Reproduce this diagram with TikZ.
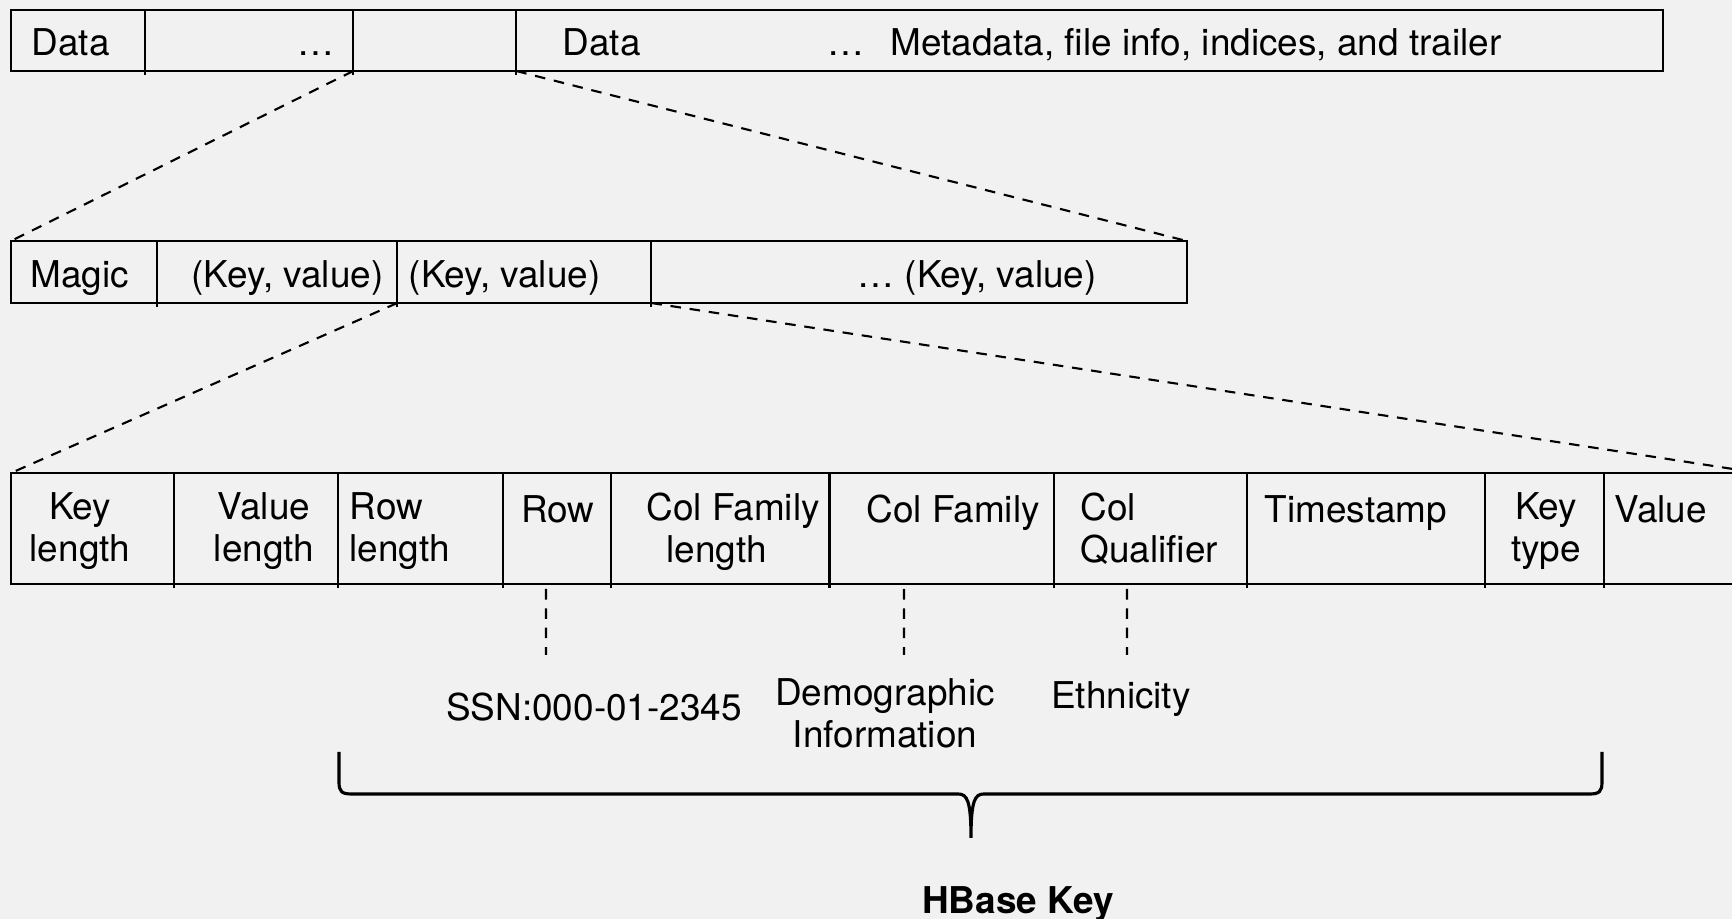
\documentclass[tikz,border=0pt]{standalone}
\usepackage{fontspec}
\setmainfont{TeX Gyre Heros}
\usetikzlibrary{positioning}
\definecolor{bggray}{HTML}{F1F1F1}

\begin{document}
\begin{tikzpicture}[x=0.01cm, y=-0.01cm,
 cell/.style = {draw, rectangle, anchor=north west, inner sep=0pt, outer sep=0pt, line width=0.6pt},
 txt/.style = {inner sep=0pt, font=\fontsize{10.5}{12}\selectfont, execute at begin node=\strut},
 zoomline/.style = {draw, dash pattern=on 3pt off 2.5pt, line width=0.6pt},
 bracestyle/.style = {draw, line width=0.9pt}]

\path[use as bounding box, fill=bggray] (0,0) rectangle (1732,919);

% file
\node(t1) [cell, minimum width=1.34cm, minimum height=0.61cm] at (11,10) {};
\node(t2) [cell, minimum width=2.08cm, minimum height=0.61cm, right=0pt of t1] {};
\node(t3) [cell, minimum width=1.63cm, minimum height=0.61cm, right=0pt of t2] {};
\node(t4) [cell, minimum width=11.46cm, minimum height=0.61cm, right=0pt of t3] {};

\node(td1) [txt, anchor=north west] at (31,25) {Data};
\node(td2) [txt, anchor=north west] at (297,25) {…};
\node(td3) [txt, anchor=north west] at (562,25) {Data};
\node(td4) [txt, anchor=north west] at (827,25) {…\hspace{0.26cm}Metadata, file info, indices, and trailer};

% data block
\node(m1) [cell, minimum width=1.46cm, minimum height=0.62cm] at (11,241) {};
\node(m2) [cell, minimum width=2.40cm, minimum height=0.62cm, right=0pt of m1] {};
\node(m3) [cell, minimum width=2.54cm, minimum height=0.62cm, right=0pt of m2] {};
\node(m4) [cell, minimum width=5.35cm, minimum height=0.62cm, right=0pt of m3] {};

\node(mk1) [txt, anchor=north west] at (30,257) {Magic};
\node(mk2) [txt, anchor=north west] at (191,257) {(Key, value)};
\node(mk3) [txt, anchor=north west] at (408,257) {(Key, value)};
\node(mk4) [txt, anchor=north west] at (857,257) {… (Key, value)};

% key value pair
\node(b1) [cell, minimum width=1.63cm, minimum height=1.11cm] at (11,473) {};
\node(b2) [cell, minimum width=1.64cm, minimum height=1.11cm, right=0pt of b1] {};
\node(b3) [cell, minimum width=1.65cm, minimum height=1.11cm, right=0pt of b2] {};
\node(b4) [cell, minimum width=1.08cm, minimum height=1.11cm, right=0pt of b3] {};
\node(b5) [cell, minimum width=2.18cm, minimum height=1.11cm, right=0pt of b4] {};
\node(b6) [cell, minimum width=2.24cm, minimum height=1.11cm, right=0pt of b5] {};
\node(b7) [cell, minimum width=1.93cm, minimum height=1.11cm, right=0pt of b6] {};
\node(b8) [cell, minimum width=2.38cm, minimum height=1.11cm, right=0pt of b7] {};
\node(b9) [cell, minimum width=1.19cm, minimum height=1.11cm, right=0pt of b8] {};
\node(b10) [cell, minimum width=1.55cm, minimum height=1.11cm, right=0pt of b9] {};

\node(bk1) [txt, anchor=north, align=center] at (80,492) {Key\\length};
\node(bk2) [txt, anchor=north, align=center] at (264,492) {Value\\length};
\node(bk3) [txt, anchor=north west, align=left] at (349,492) {Row\\length};
\node(bk4) [txt, anchor=north] at (558,492) {Row};
\node(bk5) [txt, anchor=north west, align=left] at (646,492) {Col Family\\\hspace*{0.2cm}length};
\node(bk6) [txt, anchor=north west] at (866,492) {Col Family};
\node(bk7) [txt, anchor=north west, align=left] at (1080,492) {Col\\Qualifier};
\node(bk8) [txt, anchor=north west] at (1264,492) {Timestamp};
\node(bk9) [txt, anchor=north, align=center] at (1546,492) {Key\\type};
\node(bk10) [txt, anchor=north west] at (1614,492) {Value};

\foreach \c in {t1,t2,t3,m1,m2,m3,b1,b2,b3,b4,b5,b6,b7,b8,b9}
  \draw[line width=0.6pt] (\c.south east) -- ++(0,4);

% examples
\coordinate(r1) at (546,589);  \coordinate(r2) at (546,655);
\coordinate(f1) at (904,589);  \coordinate(f2) at (904,655);
\coordinate(q1) at (1127,589); \coordinate(q2) at (1127,655);

\node(ssn) [txt, anchor=north] at (594,690) {SSN:000-01-2345};
\node(demo) [txt, anchor=north, align=center] at (885,678) {Demographic\\Information};
\node(eth) [txt, anchor=north] at (1121,678) {Ethnicity};

\path[zoomline] (t3.south west) -- (m1.north west)
        (t4.south west) -- (m4.north east)
        (m3.south west) -- (b1.north west)
        (m4.south west) -- (b10.north east)
        (r1) -- (r2)
        (f1) -- (f2)
        (q1) -- (q2);

% brace
\coordinate(brl) at (339,752);
\coordinate(brr) at (1602,752);
\coordinate(brt) at (971,838);
\draw[bracestyle] (brl) -- (339,782) .. controls (339,792) and (342,794) .. (352,794)
  -- (958,794) .. controls (967,794) and (971,800) .. (brt)
  .. controls (971,800) and (975,794) .. (984,794)
  -- (1589,794) .. controls (1599,794) and (1602,792) .. (1602,782) -- (brr);

\node(hkey) [txt, anchor=north] at (1018,883) {\bfseries HBase Key};

\end{tikzpicture}
\end{document}
